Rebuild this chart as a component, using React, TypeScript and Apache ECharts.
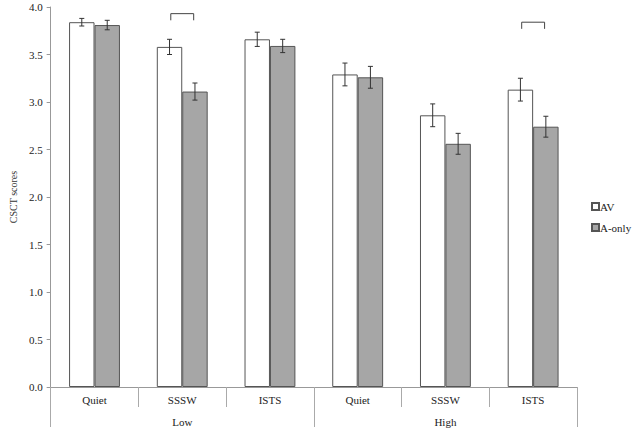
import React, { useEffect, useRef } from "react";
import * as echarts from "echarts";

const conditions = ["Quiet", "SSSW", "ISTS", "Quiet", "SSSW", "ISTS"];
const levels = ["Low", "High"];
const avMeans = [3.84, 3.58, 3.66, 3.29, 2.86, 3.13];
const avErrors = [0.04, 0.08, 0.075, 0.12, 0.12, 0.12];
const aOnlyMeans = [3.81, 3.11, 3.59, 3.26, 2.56, 2.74];
const aOnlyErrors = [0.05, 0.09, 0.07, 0.115, 0.11, 0.11];
// significance brackets: [category index, bracket top, leg bottom]
const brackets = [
  [1, 3.93, 3.86],
  [5, 3.84, 3.77],
];

const FONT = "Liberation Serif";
const CAT_GAP = 0.42;

export default function App() {
  const ref = useRef<HTMLDivElement>(null);
  useEffect(() => {
    if (!ref.current) return;
    const chart = echarts.init(ref.current, null, { renderer: "svg" });
    const errSeries = (means: number[], errs: number[], side: number) => ({
      type: "custom",
      xAxisIndex: 0,
      yAxisIndex: 0,
      z: 5,
      silent: true,
      data: means.map((m, i) => [i, m, errs[i]]),
      encode: { x: 0, y: 1 },
      renderItem: (params: any, api: any) => {
        const idx = api.value(0);
        const mean = api.value(1);
        const err = api.value(2);
        const band = api.size([1, 0])[0];
        const bw = (band * (1 - CAT_GAP)) / 2;
        const c = api.coord([idx, mean]);
        const x = c[0] + (side * bw) / 2;
        const top = api.coord([idx, mean + err])[1];
        const bot = api.coord([idx, mean - err])[1];
        const st = { stroke: "#333", lineWidth: 1 };
        return {
          type: "group",
          children: [
            { type: "line", shape: { x1: x, y1: top, x2: x, y2: bot }, style: st },
            { type: "line", shape: { x1: x - 2.5, y1: top, x2: x + 2.5, y2: top }, style: st },
            { type: "line", shape: { x1: x - 2.5, y1: bot, x2: x + 2.5, y2: bot }, style: st },
          ],
        };
      },
    });
    const option: any = {
      animation: false,
      textStyle: { fontFamily: FONT },
      grid: { left: 48, top: 7, right: 58, bottom: 44, containLabel: false },
      legend: {
        orient: "vertical",
        left: 591,
        top: 201,
        icon: "rect",
        itemWidth: 7,
        itemHeight: 7,
        itemGap: 10,
        padding: 0,
        data: ["AV", "A-only"],
        textStyle: { fontFamily: FONT, fontSize: 11, color: "#222", padding: [0, 0, 0, -4] },
      },
      xAxis: [
        {
          type: "category",
          data: conditions.map((c, i) => i + ":" + c),
          axisLine: { lineStyle: { color: "#999" } },
          axisTick: { show: true, alignWithLabel: false, interval: 0, length: 20, lineStyle: { color: "#aaa" } },
          axisLabel: {
            interval: 0,
            margin: 7,
            formatter: (v: string) => v.split(":")[1],
            fontFamily: FONT,
            fontSize: 11,
            color: "#222",
          },
        },
        {
          type: "category",
          position: "bottom",
          data: levels,
          axisLine: { show: false },
          axisTick: { show: true, alignWithLabel: false, interval: 0, length: 40, lineStyle: { color: "#aaa" } },
          axisLabel: { interval: 0, margin: 29, fontFamily: FONT, fontSize: 11, color: "#222" },
        },
      ],
      yAxis: {
        type: "value",
        min: 0,
        max: 4,
        interval: 0.5,
        name: "CSCT scores",
        nameLocation: "middle",
        nameGap: 32,
        nameTextStyle: { fontFamily: FONT, fontSize: 10, color: "#333" },
        axisLine: { show: true, lineStyle: { color: "#999" } },
        axisTick: { show: true, length: 4, lineStyle: { color: "#999" } },
        splitLine: { show: false },
        axisLabel: {
          formatter: (v: number) => v.toFixed(1),
          fontFamily: FONT,
          fontSize: 11,
          color: "#222",
          margin: 8,
        },
      },
      series: [
        {
          name: "AV",
          type: "bar",
          data: avMeans,
          barGap: "0%",
          barCategoryGap: CAT_GAP * 100 + "%",
          itemStyle: { color: "#ffffff", borderColor: "#555", borderWidth: 1 },
        },
        {
          name: "A-only",
          type: "bar",
          data: aOnlyMeans,
          barGap: "0%",
          barCategoryGap: CAT_GAP * 100 + "%",
          itemStyle: { color: "#a6a6a6", borderColor: "#555", borderWidth: 1 },
        },
        errSeries(avMeans, avErrors, -1),
        errSeries(aOnlyMeans, aOnlyErrors, 1),
        {
          type: "custom",
          silent: true,
          z: 5,
          data: brackets,
          encode: { x: 0, y: 1 },
          renderItem: (params: any, api: any) => {
            const idx = api.value(0);
            const topV = api.value(1);
            const botV = api.value(2);
            const band = api.size([1, 0])[0];
            const bw = (band * (1 - CAT_GAP)) / 2;
            const c = api.coord([idx, topV]);
            const b = api.coord([idx, botV]);
            const x1 = c[0] - bw * 0.45;
            const x2 = c[0] + bw * 0.45;
            return {
              type: "polyline",
              shape: { points: [[x1, b[1]], [x1, c[1]], [x2, c[1]], [x2, b[1]]] },
              style: { stroke: "#444", lineWidth: 1, fill: null },
            };
          },
        },
      ],
    };
    chart.setOption(option);
    return () => chart.dispose();
  }, []);
  return <div ref={ref} style={{ position: "absolute", left: 0, top: 0, width: 635, height: 431 }} />;
}
